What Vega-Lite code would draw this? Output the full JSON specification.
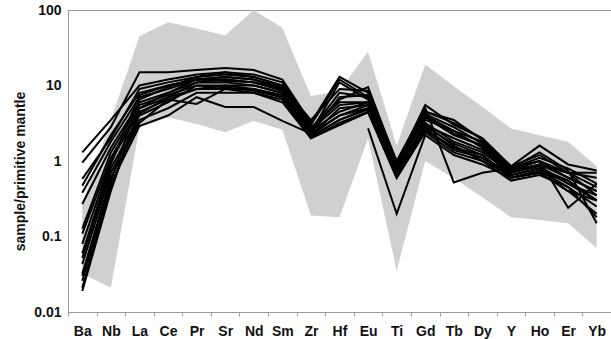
{
  "$schema": "https://vega.github.io/schema/vega-lite/v6.json",
  "width": 543,
  "height": 302,
  "autosize": {"type": "none"},
  "padding": {"left": 68, "top": 10, "right": 0, "bottom": 27},
  "background": "white",
  "config": {
    "view": {"stroke": "#9a9a9a", "strokeWidth": 1},
    "font": "Liberation Sans"
  },
  "datasets": {
    "env": [
      {"element": "Ba", "lo": 0.032, "hi": 0.27},
      {"element": "Nb", "lo": 0.021, "hi": 3.5},
      {"element": "La", "lo": 2.8, "hi": 45},
      {"element": "Ce", "lo": 3.8, "hi": 69},
      {"element": "Pr", "lo": 3.1, "hi": 57},
      {"element": "Sr", "lo": 2.4, "hi": 46},
      {"element": "Nd", "lo": 3.4, "hi": 100},
      {"element": "Sm", "lo": 2.6, "hi": 58},
      {"element": "Zr", "lo": 0.19, "hi": 7.2},
      {"element": "Hf", "lo": 0.18, "hi": 8.5},
      {"element": "Eu", "lo": 2.0, "hi": 28},
      {"element": "Ti", "lo": 0.035, "hi": 1.6},
      {"element": "Gd", "lo": 1.0, "hi": 19},
      {"element": "Tb", "lo": 0.59, "hi": 9.8},
      {"element": "Dy", "lo": 0.33, "hi": 5.2},
      {"element": "Y", "lo": 0.18, "hi": 2.7},
      {"element": "Ho", "lo": 0.165, "hi": 2.2},
      {"element": "Er", "lo": 0.15, "hi": 1.8},
      {"element": "Yb", "lo": 0.07, "hi": 0.85}
    ],
    "samples": [
      {"s": "S1", "element": "Ba", "v": 1.3}, {"s": "S1", "element": "Nb", "v": 3.5}, {"s": "S1", "element": "La", "v": 10}, {"s": "S1", "element": "Ce", "v": 12}, {"s": "S1", "element": "Pr", "v": 14}, {"s": "S1", "element": "Sr", "v": 15}, {"s": "S1", "element": "Nd", "v": 13}, {"s": "S1", "element": "Sm", "v": 10}, {"s": "S1", "element": "Zr", "v": 2.8}, {"s": "S1", "element": "Hf", "v": 6}, {"s": "S1", "element": "Eu", "v": 6}, {"s": "S1", "element": "Ti", "v": 0.8}, {"s": "S1", "element": "Gd", "v": 4}, {"s": "S1", "element": "Tb", "v": 2.5}, {"s": "S1", "element": "Dy", "v": 1.8}, {"s": "S1", "element": "Y", "v": 0.8}, {"s": "S1", "element": "Ho", "v": 1.0}, {"s": "S1", "element": "Er", "v": 0.7}, {"s": "S1", "element": "Yb", "v": 0.6},
      {"s": "S2", "element": "Ba", "v": 0.95}, {"s": "S2", "element": "Nb", "v": 2.8}, {"s": "S2", "element": "La", "v": 15}, {"s": "S2", "element": "Ce", "v": 15}, {"s": "S2", "element": "Pr", "v": 16}, {"s": "S2", "element": "Sr", "v": 17}, {"s": "S2", "element": "Nd", "v": 16}, {"s": "S2", "element": "Sm", "v": 12}, {"s": "S2", "element": "Zr", "v": 3.2}, {"s": "S2", "element": "Hf", "v": 13}, {"s": "S2", "element": "Eu", "v": 8}, {"s": "S2", "element": "Ti", "v": 0.9}, {"s": "S2", "element": "Gd", "v": 5.5}, {"s": "S2", "element": "Tb", "v": 3}, {"s": "S2", "element": "Dy", "v": 2}, {"s": "S2", "element": "Y", "v": 0.85}, {"s": "S2", "element": "Ho", "v": 1.6}, {"s": "S2", "element": "Er", "v": 0.9}, {"s": "S2", "element": "Yb", "v": 0.75},
      {"s": "S3", "element": "Ba", "v": 0.58}, {"s": "S3", "element": "Nb", "v": 2.0}, {"s": "S3", "element": "La", "v": 9}, {"s": "S3", "element": "Ce", "v": 11}, {"s": "S3", "element": "Pr", "v": 13}, {"s": "S3", "element": "Sr", "v": 14}, {"s": "S3", "element": "Nd", "v": 13}, {"s": "S3", "element": "Sm", "v": 10}, {"s": "S3", "element": "Zr", "v": 2.6}, {"s": "S3", "element": "Hf", "v": 8}, {"s": "S3", "element": "Eu", "v": 7}, {"s": "S3", "element": "Ti", "v": 0.9}, {"s": "S3", "element": "Gd", "v": 4.2}, {"s": "S3", "element": "Tb", "v": 2.8}, {"s": "S3", "element": "Dy", "v": 1.7}, {"s": "S3", "element": "Y", "v": 0.8}, {"s": "S3", "element": "Ho", "v": 1.1}, {"s": "S3", "element": "Er", "v": 0.8}, {"s": "S3", "element": "Yb", "v": 0.5},
      {"s": "S4", "element": "Ba", "v": 0.47}, {"s": "S4", "element": "Nb", "v": 2.2}, {"s": "S4", "element": "La", "v": 8}, {"s": "S4", "element": "Ce", "v": 10}, {"s": "S4", "element": "Pr", "v": 12}, {"s": "S4", "element": "Sr", "v": 13}, {"s": "S4", "element": "Nd", "v": 12}, {"s": "S4", "element": "Sm", "v": 9}, {"s": "S4", "element": "Zr", "v": 2.4}, {"s": "S4", "element": "Hf", "v": 11}, {"s": "S4", "element": "Eu", "v": 6.5}, {"s": "S4", "element": "Ti", "v": 0.8}, {"s": "S4", "element": "Gd", "v": 3.8}, {"s": "S4", "element": "Tb", "v": 2.2}, {"s": "S4", "element": "Dy", "v": 1.6}, {"s": "S4", "element": "Y", "v": 0.75}, {"s": "S4", "element": "Ho", "v": 0.9}, {"s": "S4", "element": "Er", "v": 0.6}, {"s": "S4", "element": "Yb", "v": 0.4},
      {"s": "S5", "element": "Ba", "v": 0.38}, {"s": "S5", "element": "Nb", "v": 1.8}, {"s": "S5", "element": "La", "v": 7}, {"s": "S5", "element": "Ce", "v": 9}, {"s": "S5", "element": "Pr", "v": 12}, {"s": "S5", "element": "Sr", "v": 12}, {"s": "S5", "element": "Nd", "v": 11}, {"s": "S5", "element": "Sm", "v": 9}, {"s": "S5", "element": "Zr", "v": 2.3}, {"s": "S5", "element": "Hf", "v": 7}, {"s": "S5", "element": "Eu", "v": 7.5}, {"s": "S5", "element": "Ti", "v": 0.85}, {"s": "S5", "element": "Gd", "v": 3.5}, {"s": "S5", "element": "Tb", "v": 2.5}, {"s": "S5", "element": "Dy", "v": 1.5}, {"s": "S5", "element": "Y", "v": 0.7}, {"s": "S5", "element": "Ho", "v": 0.9}, {"s": "S5", "element": "Er", "v": 0.7}, {"s": "S5", "element": "Yb", "v": 0.45},
      {"s": "S6", "element": "Ba", "v": 0.27}, {"s": "S6", "element": "Nb", "v": 1.5}, {"s": "S6", "element": "La", "v": 6}, {"s": "S6", "element": "Ce", "v": 8}, {"s": "S6", "element": "Pr", "v": 11}, {"s": "S6", "element": "Sr", "v": 11}, {"s": "S6", "element": "Nd", "v": 10}, {"s": "S6", "element": "Sm", "v": 8}, {"s": "S6", "element": "Zr", "v": 2.2}, {"s": "S6", "element": "Hf", "v": 5}, {"s": "S6", "element": "Eu", "v": 5.5}, {"s": "S6", "element": "Ti", "v": 0.7}, {"s": "S6", "element": "Gd", "v": 3}, {"s": "S6", "element": "Tb", "v": 2}, {"s": "S6", "element": "Dy", "v": 1.4}, {"s": "S6", "element": "Y", "v": 0.65}, {"s": "S6", "element": "Ho", "v": 0.8}, {"s": "S6", "element": "Er", "v": 0.55}, {"s": "S6", "element": "Yb", "v": 0.3},
      {"s": "S7", "element": "Ba", "v": 0.127}, {"s": "S7", "element": "Nb", "v": 1.3}, {"s": "S7", "element": "La", "v": 5.5}, {"s": "S7", "element": "Ce", "v": 7.5}, {"s": "S7", "element": "Pr", "v": 10}, {"s": "S7", "element": "Sr", "v": 10}, {"s": "S7", "element": "Nd", "v": 10}, {"s": "S7", "element": "Sm", "v": 8}, {"s": "S7", "element": "Zr", "v": 2.5}, {"s": "S7", "element": "Hf", "v": 4.5}, {"s": "S7", "element": "Eu", "v": 6}, {"s": "S7", "element": "Ti", "v": 0.75}, {"s": "S7", "element": "Gd", "v": 3.2}, {"s": "S7", "element": "Tb", "v": 1.8}, {"s": "S7", "element": "Dy", "v": 1.3}, {"s": "S7", "element": "Y", "v": 0.7}, {"s": "S7", "element": "Ho", "v": 0.85}, {"s": "S7", "element": "Er", "v": 0.5}, {"s": "S7", "element": "Yb", "v": 0.35},
      {"s": "S8", "element": "Ba", "v": 0.109}, {"s": "S8", "element": "Nb", "v": 1.1}, {"s": "S8", "element": "La", "v": 5}, {"s": "S8", "element": "Ce", "v": 7}, {"s": "S8", "element": "Pr", "v": 9}, {"s": "S8", "element": "Sr", "v": 10}, {"s": "S8", "element": "Nd", "v": 9}, {"s": "S8", "element": "Sm", "v": 7.5}, {"s": "S8", "element": "Zr", "v": 2.1}, {"s": "S8", "element": "Hf", "v": 3.5}, {"s": "S8", "element": "Eu", "v": 5}, {"s": "S8", "element": "Ti", "v": 0.65}, {"s": "S8", "element": "Gd", "v": 2.8}, {"s": "S8", "element": "Tb", "v": 1.7}, {"s": "S8", "element": "Dy", "v": 1.2}, {"s": "S8", "element": "Y", "v": 0.6}, {"s": "S8", "element": "Ho", "v": 0.75}, {"s": "S8", "element": "Er", "v": 0.45}, {"s": "S8", "element": "Yb", "v": 0.25},
      {"s": "S9", "element": "Ba", "v": 0.08}, {"s": "S9", "element": "Nb", "v": 1.0}, {"s": "S9", "element": "La", "v": 4.5}, {"s": "S9", "element": "Ce", "v": 6.5}, {"s": "S9", "element": "Pr", "v": 9}, {"s": "S9", "element": "Sr", "v": 9}, {"s": "S9", "element": "Nd", "v": 9}, {"s": "S9", "element": "Sm", "v": 7}, {"s": "S9", "element": "Zr", "v": 2.0}, {"s": "S9", "element": "Hf", "v": 3.2}, {"s": "S9", "element": "Eu", "v": 4.5}, {"s": "S9", "element": "Ti", "v": 0.6}, {"s": "S9", "element": "Gd", "v": 2.5}, {"s": "S9", "element": "Tb", "v": 1.5}, {"s": "S9", "element": "Dy", "v": 1.1}, {"s": "S9", "element": "Y", "v": 0.6}, {"s": "S9", "element": "Ho", "v": 0.7}, {"s": "S9", "element": "Er", "v": 0.4}, {"s": "S9", "element": "Yb", "v": 0.2},
      {"s": "S10", "element": "Ba", "v": 0.052}, {"s": "S10", "element": "Nb", "v": 0.8}, {"s": "S10", "element": "La", "v": 4}, {"s": "S10", "element": "Ce", "v": 6}, {"s": "S10", "element": "Pr", "v": 10}, {"s": "S10", "element": "Sr", "v": 9.5}, {"s": "S10", "element": "Nd", "v": 8.5}, {"s": "S10", "element": "Sm", "v": 7}, {"s": "S10", "element": "Zr", "v": 2.2}, {"s": "S10", "element": "Hf", "v": 4}, {"s": "S10", "element": "Eu", "v": 5.5}, {"s": "S10", "element": "Ti", "v": 0.7}, {"s": "S10", "element": "Gd", "v": 3}, {"s": "S10", "element": "Tb", "v": 1.6}, {"s": "S10", "element": "Dy", "v": 1.0}, {"s": "S10", "element": "Y", "v": 0.65}, {"s": "S10", "element": "Ho", "v": 0.8}, {"s": "S10", "element": "Er", "v": 0.5}, {"s": "S10", "element": "Yb", "v": 0.3},
      {"s": "S11", "element": "Ba", "v": 0.043}, {"s": "S11", "element": "Nb", "v": 0.7}, {"s": "S11", "element": "La", "v": 3.5}, {"s": "S11", "element": "Ce", "v": 5}, {"s": "S11", "element": "Pr", "v": 8}, {"s": "S11", "element": "Sr", "v": 8}, {"s": "S11", "element": "Nd", "v": 8}, {"s": "S11", "element": "Sm", "v": 6.5}, {"s": "S11", "element": "Zr", "v": 2.1}, {"s": "S11", "element": "Hf", "v": 3.5}, {"s": "S11", "element": "Eu", "v": 4.8}, {"s": "S11", "element": "Ti", "v": 0.65}, {"s": "S11", "element": "Gd", "v": 2.6}, {"s": "S11", "element": "Tb", "v": 1.5}, {"s": "S11", "element": "Dy", "v": 1.2}, {"s": "S11", "element": "Y", "v": 0.6}, {"s": "S11", "element": "Ho", "v": 0.7}, {"s": "S11", "element": "Er", "v": 0.55}, {"s": "S11", "element": "Yb", "v": 0.3},
      {"s": "S12", "element": "Ba", "v": 0.032}, {"s": "S12", "element": "Nb", "v": 0.6}, {"s": "S12", "element": "La", "v": 3.2}, {"s": "S12", "element": "Ce", "v": 6.5}, {"s": "S12", "element": "Pr", "v": 5.7}, {"s": "S12", "element": "Sr", "v": 9}, {"s": "S12", "element": "Nd", "v": 8}, {"s": "S12", "element": "Sm", "v": 6}, {"s": "S12", "element": "Zr", "v": 2.0}, {"s": "S12", "element": "Hf", "v": 3}, {"s": "S12", "element": "Eu", "v": 4.4}, {"s": "S12", "element": "Ti", "v": 0.6}, {"s": "S12", "element": "Gd", "v": 2.4}, {"s": "S12", "element": "Tb", "v": 1.3}, {"s": "S12", "element": "Dy", "v": 1.0}, {"s": "S12", "element": "Y", "v": 0.55}, {"s": "S12", "element": "Ho", "v": 0.65}, {"s": "S12", "element": "Er", "v": 0.45}, {"s": "S12", "element": "Yb", "v": 0.18},
      {"s": "S13", "element": "Ba", "v": 0.026}, {"s": "S13", "element": "Nb", "v": 0.5}, {"s": "S13", "element": "La", "v": 2.9}, {"s": "S13", "element": "Ce", "v": 4.0}, {"s": "S13", "element": "Pr", "v": 7}, {"s": "S13", "element": "Sr", "v": 5.2}, {"s": "S13", "element": "Nd", "v": 5.2}, {"s": "S13", "element": "Sm", "v": 3.4}, {"s": "S13", "element": "Zr", "v": 2.3}, {"s": "S13", "element": "Hf", "v": 4}, {"s": "S13", "element": "Eu", "v": 5}, {"s": "S13", "element": "Ti", "v": 0.7}, {"s": "S13", "element": "Gd", "v": 2.7}, {"s": "S13", "element": "Tb", "v": 1.4}, {"s": "S13", "element": "Dy", "v": 1.1}, {"s": "S13", "element": "Y", "v": 0.7}, {"s": "S13", "element": "Ho", "v": 0.9}, {"s": "S13", "element": "Er", "v": 0.7}, {"s": "S13", "element": "Yb", "v": 0.7},
      {"s": "S14", "element": "Ba", "v": 0.021}, {"s": "S14", "element": "Nb", "v": 0.45}, {"s": "S14", "element": "La", "v": 4.2}, {"s": "S14", "element": "Ce", "v": 7}, {"s": "S14", "element": "Pr", "v": 11}, {"s": "S14", "element": "Sr", "v": 12}, {"s": "S14", "element": "Nd", "v": 11}, {"s": "S14", "element": "Sm", "v": 8.5}, {"s": "S14", "element": "Zr", "v": 2.7}, {"s": "S14", "element": "Hf", "v": 6.5}, {"s": "S14", "element": "Eu", "v": 9.5}, {"s": "S14", "element": "Ti", "v": 0.95}, {"s": "S14", "element": "Gd", "v": 4.5}, {"s": "S14", "element": "Tb", "v": 3.2}, {"s": "S14", "element": "Dy", "v": 2.0}, {"s": "S14", "element": "Y", "v": 0.85}, {"s": "S14", "element": "Ho", "v": 1.2}, {"s": "S14", "element": "Er", "v": 0.7}, {"s": "S14", "element": "Yb", "v": 0.35},
      {"s": "S15", "element": "Ba", "v": 0.019}, {"s": "S15", "element": "Nb", "v": 0.4}, {"s": "S15", "element": "La", "v": 5}, {"s": "S15", "element": "Ce", "v": 8}, {"s": "S15", "element": "Pr", "v": 12}, {"s": "S15", "element": "Sr", "v": 13}, {"s": "S15", "element": "Nd", "v": 12}, {"s": "S15", "element": "Sm", "v": 9.5}, {"s": "S15", "element": "Zr", "v": 3.5}, {"s": "S15", "element": "Hf", "v": 9}, {"s": "S15", "element": "Eu", "v": 8.5}, {"s": "S15", "element": "Ti", "v": 1.0}, {"s": "S15", "element": "Gd", "v": 5}, {"s": "S15", "element": "Tb", "v": 0.52}, {"s": "S15", "element": "Dy", "v": 0.7}, {"s": "S15", "element": "Y", "v": 0.8}, {"s": "S15", "element": "Ho", "v": 1.0}, {"s": "S15", "element": "Er", "v": 0.24}, {"s": "S15", "element": "Yb", "v": 0.5},
      {"s": "S16", "element": "Ba", "v": 0.03}, {"s": "S16", "element": "Nb", "v": 0.55}, {"s": "S16", "element": "La", "v": 6.5}, {"s": "S16", "element": "Ce", "v": 9.5}, {"s": "S16", "element": "Pr", "v": 13}, {"s": "S16", "element": "Sr", "v": 15}, {"s": "S16", "element": "Nd", "v": 14}, {"s": "S16", "element": "Sm", "v": 11}, {"s": "S16", "element": "Zr", "v": 3}, {"s": "S16", "element": "Hf", "v": 12}, {"s": "S16", "element": "Eu", "v": 7}, {"s": "S16", "element": "Ti", "v": 0.85}, {"s": "S16", "element": "Gd", "v": 4.5}, {"s": "S16", "element": "Tb", "v": 3.5}, {"s": "S16", "element": "Dy", "v": 1.9}, {"s": "S16", "element": "Y", "v": 0.8}, {"s": "S16", "element": "Ho", "v": 1.3}, {"s": "S16", "element": "Er", "v": 0.75}, {"s": "S16", "element": "Yb", "v": 0.15},
      {"s": "S17", "element": "Ba", "v": 0.06}, {"s": "S17", "element": "Nb", "v": 0.9}, {"s": "S17", "element": "La", "v": 7.5}, {"s": "S17", "element": "Ce", "v": 10}, {"s": "S17", "element": "Pr", "v": 12}, {"s": "S17", "element": "Sr", "v": 11.5}, {"s": "S17", "element": "Nd", "v": 11}, {"s": "S17", "element": "Sm", "v": 9}, {"s": "S17", "element": "Zr", "v": 2.6}, {"s": "S17", "element": "Hf", "v": 5.5}, {"s": "S17", "element": "Eu", "v": 6}, {"s": "S17", "element": "Ti", "v": 0.9}, {"s": "S17", "element": "Gd", "v": 3.8}, {"s": "S17", "element": "Tb", "v": 2.3}, {"s": "S17", "element": "Dy", "v": 1.6}, {"s": "S17", "element": "Y", "v": 0.75}, {"s": "S17", "element": "Ho", "v": 1.0}, {"s": "S17", "element": "Er", "v": 0.6}, {"s": "S17", "element": "Yb", "v": 0.4},
      {"s": "S18", "element": "Eu", "v": 2.7}, {"s": "S18", "element": "Ti", "v": 0.2}, {"s": "S18", "element": "Gd", "v": 2.2}, {"s": "S18", "element": "Tb", "v": 1.2}, {"s": "S18", "element": "Dy", "v": 0.9}, {"s": "S18", "element": "Y", "v": 0.6}, {"s": "S18", "element": "Ho", "v": 0.7}, {"s": "S18", "element": "Er", "v": 0.4}, {"s": "S18", "element": "Yb", "v": 0.3}
    ]
  },
  "encoding": {
    "x": {
      "field": "element",
      "type": "ordinal",
      "bandPosition": 0.5,
      "sort": ["Ba", "Nb", "La", "Ce", "Pr", "Sr", "Nd", "Sm", "Zr", "Hf", "Eu", "Ti", "Gd", "Tb", "Dy", "Y", "Ho", "Er", "Yb"],
      "scale": {"type": "band", "paddingInner": 0, "paddingOuter": 0, "domain": ["Ba", "Nb", "La", "Ce", "Pr", "Sr", "Nd", "Sm", "Zr", "Hf", "Eu", "Ti", "Gd", "Tb", "Dy", "Y", "Ho", "Er", "Yb"]},
      "axis": {
        "title": null,
        "labelAngle": 0,
        "labelFont": "Liberation Sans",
        "labelFontWeight": "bold",
        "labelFontSize": 14,
        "labelColor": "#111",
        "labelPadding": 8,
        "tickBand": "extent",
        "ticks": true,
        "tickSize": 4,
        "tickColor": "#9a9a9a",
        "domainColor": "#9a9a9a",
        "grid": false
      }
    }
  },
  "layer": [
    {
      "data": {"name": "env"},
      "mark": {"type": "area", "color": "#d0d0d0", "opacity": 1},
      "encoding": {
        "y": {
          "field": "lo",
          "type": "quantitative",
          "scale": {"type": "log", "domain": [0.01, 100], "nice": false},
          "axis": {
            "title": "sample/primitive mantle",
            "titleFont": "Liberation Sans",
            "titleFontWeight": "bold",
            "titleFontSize": 14,
            "titleColor": "#111",
            "titlePadding": 6,
            "titleY": 161,
            "values": [0.01, 0.1, 1, 10, 100],
            "format": "~g",
            "labelFont": "Liberation Sans",
            "labelFontWeight": "bold",
            "labelFontSize": 14,
            "labelColor": "#111",
            "ticks": false,
            "labelPadding": 7,
            "domainColor": "#9a9a9a",
            "grid": false
          }
        },
        "y2": {"field": "hi"}
      }
    },
    {
      "data": {"name": "samples"},
      "mark": {"type": "line", "color": "black", "strokeWidth": 2},
      "encoding": {
        "y": {"field": "v", "type": "quantitative"},
        "detail": {"field": "s"}
      }
    }
  ]
}
